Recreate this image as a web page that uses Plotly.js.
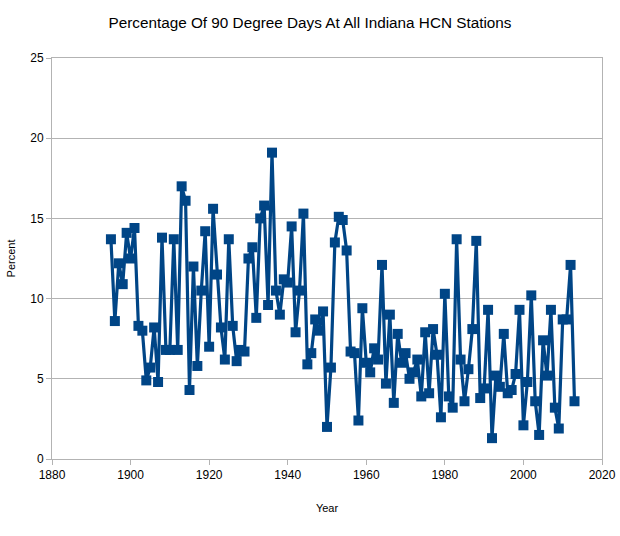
<!DOCTYPE html>
<html>
<head>
<meta charset="utf-8">
<script src="https://cdn.plot.ly/plotly-3.0.1.min.js"></script>
<style>
  body { margin: 0; background: #fff; }
  #chart { width: 620px; height: 536px; }
</style>
</head>
<body>
<div id="chart"></div>
<script>
const FIRST_YEAR = 1895;

// percentage of 90 degree days, one value per year from 1895
const percent = [
  13.7, 8.6, 12.2, 10.9, 14.1, 12.5, 14.4, 8.3, 8.0, 4.9,
  5.7, 8.2, 4.8, 13.8, 6.8, 6.8, 13.7, 6.8, 17.0, 16.1,
  4.3, 12.0, 5.8, 10.5, 14.2, 7.0, 15.6, 11.5, 8.2, 6.2,
  13.7, 8.3, 6.1, 6.8, 6.7, 12.5, 13.2, 8.8, 15.0, 15.8,
  9.6, 19.1, 10.5, 9.0, 11.2, 11.0, 14.5, 7.9, 10.5, 15.3,
  5.9, 6.6, 8.7, 8.0, 9.2, 2.0, 5.7, 13.5, 15.1, 14.9,
  13.0, 6.7, 6.6, 2.4, 9.4, 6.0, 5.4, 6.9, 6.2, 12.1,
  4.7, 9.0, 3.5, 7.8, 6.0, 6.6, 5.0, 5.4, 6.2, 3.9,
  7.9, 4.1, 8.1, 6.5, 2.6, 10.3, 3.9, 3.2, 13.7, 6.2,
  3.6, 5.6, 8.1, 13.6, 3.8, 4.4, 9.3, 1.3, 5.2, 4.5,
  7.8, 4.1, 4.3, 5.3, 9.3, 2.1, 4.8, 10.2, 3.6, 1.5,
  7.4, 5.2, 9.3, 3.2, 1.9, 8.7, 8.7, 12.1, 3.6
];
const years = percent.map((v, i) => FIRST_YEAR + i);

const xTicks = [1880, 1900, 1920, 1940, 1960, 1980, 2000, 2020];
const yTicks = [0, 5, 10, 15, 20, 25];

const BLUE = '#004586';
const GRID = '#b3b3b3';
const FONT = 'Liberation Sans, Arial, sans-serif';

const trace = {
  x: years,
  y: percent,
  type: 'scatter',
  mode: 'lines+markers',
  line: { color: BLUE, width: 3.2 },
  marker: { symbol: 'square', size: 10, color: BLUE },
  hoverinfo: 'x+y',
};

const layout = {
  width: 620,
  height: 536,
  margin: { l: 52, r: 18, t: 58, b: 77 },
  paper_bgcolor: '#fff',
  plot_bgcolor: '#fff',
  showlegend: false,
  font: { family: FONT, size: 12, color: '#000' },
  title: {
    text: 'Percentage Of 90 Degree Days At All Indiana HCN Stations',
    font: { family: FONT, size: 15.3, color: '#000' },
    x: 0.5,
    xanchor: 'center',
    y: 0.958,
    yanchor: 'middle',
  },
  xaxis: {
    range: [1880, 2020],
    tickvals: xTicks,
    ticktext: xTicks.map(String),
    showgrid: false,
    zeroline: false,
    showline: true,
    linecolor: GRID,
    linewidth: 1,
    mirror: true,
    ticks: 'outside',
    ticklen: 5,
    tickcolor: GRID,
    tickfont: { size: 12 },
    title: { text: 'Year', font: { size: 11 }, standoff: 22 },
  },
  yaxis: {
    range: [0, 25],
    tickvals: yTicks,
    showgrid: true,
    gridcolor: GRID,
    gridwidth: 1,
    zeroline: false,
    showline: true,
    linecolor: GRID,
    linewidth: 1,
    mirror: true,
    ticks: 'outside',
    ticklen: 5,
    tickcolor: GRID,
    tickfont: { size: 12 },
    title: { text: 'Percent', font: { size: 11 }, standoff: 12 },
  },
};

Plotly.newPlot('chart', [trace], layout, { displayModeBar: false, staticPlot: true });
</script>
</body>
</html>
